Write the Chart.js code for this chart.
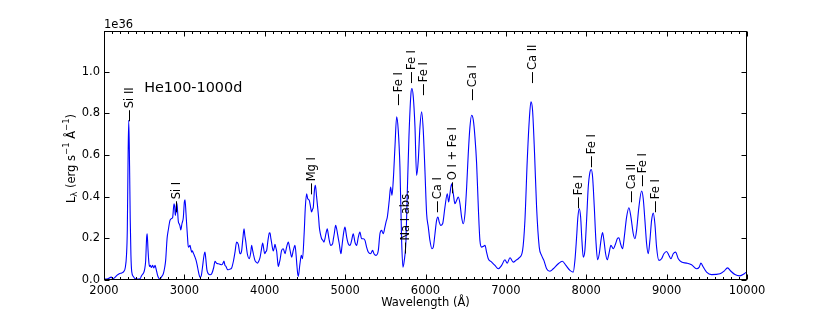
<!DOCTYPE html>
<html>
<head>
<meta charset="utf-8">
<script src="https://cdn.jsdelivr.net/npm/chart.js@4.4.1/dist/chart.umd.min.js"></script>
<style>
  html, body { margin: 0; padding: 0; background: #fff; }
</style>
</head>
<body>
<canvas id="spec" width="830" height="312"></canvas>
<script>
// Model spectrum He100-1000d, L_lambda in units of 1e36 erg/s/A
var wavelength = [
  2000, 2030, 2060, 2090, 2110, 2130, 2160, 2190, 2220, 2245, 2265, 2280, 2290, 2300, 2308, 2318, 2326, 2335, 2345, 2365,
  2390, 2420, 2448, 2469, 2490, 2505, 2518, 2530, 2537, 2547, 2555, 2565, 2575, 2590, 2605, 2620, 2635, 2650, 2665, 2680,
  2697, 2715, 2738, 2755, 2767, 2785, 2800, 2821, 2840, 2854, 2871, 2880, 2887, 2895, 2904, 2912, 2925, 2935, 2945, 2955,
  2970, 2987, 3000, 3008, 3020, 3028, 3040, 3049, 3060, 3070, 3080, 3091, 3100, 3111, 3122, 3132, 3145, 3160, 3175, 3194,
  3210, 3225, 3245, 3256, 3267, 3280, 3298, 3320, 3340, 3365, 3381, 3400, 3422, 3445, 3464, 3480, 3493, 3505, 3518, 3535,
  3547, 3565, 3588, 3610, 3630, 3650, 3671, 3692, 3705, 3713, 3728, 3742, 3752, 3762, 3783, 3808, 3825, 3837, 3848, 3858,
  3878, 3895, 3907, 3925, 3941, 3958, 3974, 3987, 3999, 4012, 4024, 4040, 4058, 4065, 4076, 4086, 4106, 4118, 4127, 4138,
  4148, 4160, 4169, 4180, 4189, 4210, 4231, 4252, 4272, 4293, 4314, 4335, 4355, 4376, 4390, 4400, 4410, 4417, 4438, 4455,
  4470, 4490, 4505, 4521, 4535, 4554, 4570, 4583, 4595, 4604, 4618, 4630, 4645, 4658, 4670, 4679, 4693, 4708, 4723, 4737,
  4750, 4761, 4778, 4790, 4799, 4820, 4844, 4855, 4865, 4882, 4892, 4902, 4915, 4927, 4948, 4960, 4969, 4985, 4998, 5010,
  5019, 5039, 5060, 5081, 5101, 5122, 5143, 5164, 5184, 5205, 5226, 5247, 5267, 5288, 5317, 5342, 5359, 5384, 5413, 5433,
  5454, 5475, 5495, 5510, 5525, 5549, 5566, 5583, 5599, 5620, 5641, 5661, 5682, 5703, 5719, 5736, 5757, 5773, 5794, 5819,
  5831, 5848, 5869, 5889, 5910, 5931, 5952, 5972, 5993, 6014, 6035, 6055, 6080, 6097, 6118, 6138, 6155, 6171, 6188, 6213,
  6242, 6271, 6288, 6304, 6325, 6346, 6366, 6387, 6408, 6429, 6449, 6470, 6491, 6512, 6532, 6553, 6574, 6595, 6615, 6636,
  6657, 6677, 6698, 6719, 6740, 6760, 6781, 6823, 6864, 6905, 6947, 6988, 7017, 7051, 7092, 7125, 7167, 7208, 7237, 7266,
  7291, 7312, 7332, 7357, 7382, 7415, 7444, 7473, 7507, 7548, 7590, 7652, 7702, 7747, 7797, 7838, 7859, 7880, 7896, 7913,
  7930, 7946, 7963, 7983, 8004, 8025, 8046, 8062, 8079, 8100, 8120, 8141, 8162, 8183, 8203, 8220, 8241, 8261, 8282, 8307,
  8336, 8365, 8386, 8406, 8427, 8452, 8473, 8502, 8531, 8556, 8585, 8606, 8626, 8655, 8689, 8709, 8730, 8751, 8771, 8792,
  8813, 8834, 8854, 8875, 8904, 8937, 8966, 8999, 9029, 9053, 9082, 9111, 9145, 9186, 9248, 9310, 9373, 9406, 9427, 9456,
  9497, 9559, 9663, 9713, 9758, 9800, 9850, 9912, 9966, 10000
];
var lumin = [
  0.005, 0.004, 0.008, 0.014, 0.006, 0.010, 0.022, 0.030, 0.034, 0.040, 0.060, 0.120, 0.240, 0.600, 0.767, 0.550, 0.300, 0.120, 0.040, 0.017,
  0.006, 0.004, 0.006, 0.022, 0.032, 0.050, 0.090, 0.200, 0.222, 0.150, 0.100, 0.065, 0.070, 0.060, 0.070, 0.058, 0.070, 0.050, 0.025, 0.010,
  0.005, 0.015, 0.030, 0.060, 0.094, 0.200, 0.240, 0.286, 0.295, 0.300, 0.366, 0.350, 0.310, 0.330, 0.370, 0.350, 0.280, 0.270, 0.260, 0.240,
  0.270, 0.300, 0.375, 0.385, 0.320, 0.270, 0.200, 0.158, 0.160, 0.166, 0.150, 0.134, 0.140, 0.130, 0.120, 0.110, 0.095, 0.070, 0.040, 0.014,
  0.020, 0.060, 0.120, 0.134, 0.100, 0.050, 0.030, 0.025, 0.030, 0.060, 0.090, 0.080, 0.078, 0.075, 0.073, 0.080, 0.091, 0.070, 0.065, 0.050,
  0.049, 0.052, 0.058, 0.090, 0.134, 0.182, 0.171, 0.126, 0.130, 0.142, 0.200, 0.246, 0.215, 0.190, 0.126, 0.102, 0.130, 0.166, 0.145, 0.126,
  0.094, 0.085, 0.081, 0.090, 0.107, 0.145, 0.177, 0.150, 0.126, 0.135, 0.142, 0.190, 0.226, 0.227, 0.200, 0.177, 0.139, 0.155, 0.171, 0.155,
  0.139, 0.090, 0.065, 0.080, 0.094, 0.142, 0.150, 0.126, 0.158, 0.182, 0.145, 0.110, 0.142, 0.166, 0.120, 0.070, 0.030, 0.017, 0.078, 0.118,
  0.102, 0.222, 0.350, 0.414, 0.390, 0.382, 0.350, 0.326, 0.340, 0.350, 0.430, 0.454, 0.400, 0.350, 0.300, 0.254, 0.220, 0.198, 0.190, 0.182,
  0.200, 0.222, 0.246, 0.220, 0.198, 0.166, 0.174, 0.200, 0.222, 0.262, 0.250, 0.230, 0.200, 0.174, 0.126, 0.160, 0.190, 0.235, 0.254, 0.230,
  0.206, 0.174, 0.166, 0.190, 0.222, 0.182, 0.166, 0.206, 0.230, 0.198, 0.198, 0.190, 0.158, 0.134, 0.126, 0.142, 0.126, 0.118, 0.142, 0.222,
  0.238, 0.222, 0.254, 0.280, 0.302, 0.382, 0.446, 0.406, 0.478, 0.639, 0.783, 0.719, 0.542, 0.190, 0.062, 0.094, 0.190, 0.414, 0.687, 0.895,
  0.919, 0.879, 0.735, 0.502, 0.574, 0.735, 0.807, 0.719, 0.526, 0.318, 0.254, 0.190, 0.150, 0.158, 0.222, 0.286, 0.302, 0.278, 0.262, 0.270,
  0.350, 0.414, 0.374, 0.414, 0.462, 0.414, 0.366, 0.382, 0.398, 0.366, 0.302, 0.270, 0.318, 0.446, 0.606, 0.735, 0.791, 0.767, 0.687, 0.559,
  0.350, 0.190, 0.158, 0.161, 0.166, 0.134, 0.102, 0.086, 0.070, 0.054, 0.070, 0.097, 0.081, 0.107, 0.086, 0.094, 0.107, 0.142, 0.286, 0.574,
  0.767, 0.855, 0.815, 0.606, 0.350, 0.158, 0.118, 0.094, 0.054, 0.042, 0.054, 0.078, 0.090, 0.070, 0.046, 0.038, 0.094, 0.206, 0.302, 0.342,
  0.302, 0.190, 0.110, 0.142, 0.286, 0.446, 0.518, 0.530, 0.494, 0.350, 0.190, 0.097, 0.126, 0.190, 0.228, 0.190, 0.126, 0.097, 0.126, 0.166,
  0.150, 0.174, 0.198, 0.203, 0.174, 0.150, 0.206, 0.302, 0.347, 0.302, 0.222, 0.198, 0.238, 0.350, 0.427, 0.390, 0.286, 0.174, 0.126, 0.190,
  0.286, 0.321, 0.270, 0.158, 0.094, 0.102, 0.126, 0.137, 0.118, 0.102, 0.126, 0.134, 0.102, 0.086, 0.081, 0.073, 0.054, 0.062, 0.081, 0.062,
  0.038, 0.026, 0.030, 0.042, 0.058, 0.042, 0.026, 0.020, 0.030, 0.040
];

// line identifications: label, wavelength, and level where the marker starts
var lineLabels = ['Si II', 'Si I', 'Mg I', 'Fe I', 'Fe I', 'Fe I', 'Na I abs.', 'Ca I', 'O I + Fe I', 'Ca I',
  'Ca II', 'Fe I', 'Fe I', 'Ca II', 'Fe I', 'Fe I'];
var lineWave = [2315, 2896, 4571, 5654, 5819, 5968, 5744, 6146, 6325, 6582,
  7321, 7900, 8055, 8552, 8697, 8854];
var lineLevel = [0.762, 0.325, 0.411, 0.839, 0.945, 0.887, 0.127, 0.325, 0.416, 0.863,
  0.945, 0.344, 0.541, 0.373, 0.45, 0.325];

var xTicks = [2000, 3000, 4000, 5000, 6000, 7000, 8000, 9000, 10000];
var yTicks = [0, 0.2, 0.4, 0.6, 0.8, 1.0];
var modelName = 'He100-1000d';
var modelPos = [2500, 0.9];

var FONT = '"DejaVu Sans", sans-serif';

var points = wavelength.map(function (w, i) { return { x: w, y: lumin[i] }; });

var framePlugin = {
  id: 'frame',
  afterDraw: function (chart) {
    var ctx = chart.ctx, a = chart.chartArea;
    var xs = chart.scales.x, ys = chart.scales.y;
    var l = Math.round(a.left) + 0.5, r = Math.round(a.right) - 0.5;
    var t = Math.round(a.top) + 0.5, b = Math.round(a.bottom) - 0.5;
    ctx.save();
    ctx.strokeStyle = '#000';
    ctx.lineWidth = 1;
    ctx.beginPath();
    // minor x ticks every 100 A, major every 1000 A
    for (var w = 2000; w <= 10000; w += 100) {
      var px = Math.round(xs.getPixelForValue(w)) + 0.5;
      var len = (w % 1000 === 0) ? 5 : 2.5;
      ctx.moveTo(px, b); ctx.lineTo(px, b - len);
      ctx.moveTo(px, t); ctx.lineTo(px, t + len);
    }
    yTicks.forEach(function (v) {
      var py = Math.round(ys.getPixelForValue(v)) + 0.5;
      ctx.moveTo(l, py); ctx.lineTo(l + 5, py);
      ctx.moveTo(r, py); ctx.lineTo(r - 5, py);
    });
    ctx.stroke();
    ctx.strokeRect(l, t, r - l, b - t);

    // offset text
    ctx.fillStyle = '#000';
    ctx.font = '11.5px ' + FONT;
    ctx.textAlign = 'left';
    ctx.textBaseline = 'alphabetic';
    ctx.fillText('1e36', a.left, a.top - 3);

    // y axis label with sub/superscripts
    var parts = [
      ['L', 0, 11.5], ['\u03bb', 3, 8.5], [' (erg s', 0, 11.5], ['\u22121', -5, 8.5],
      [' \u00c5', 0, 11.5], ['\u22121', -5, 8.5], [')', 0, 11.5]
    ];
    var total = 0;
    parts.forEach(function (p) { ctx.font = p[2] + 'px ' + FONT; p.push(ctx.measureText(p[0]).width); total += p[3]; });
    ctx.textBaseline = 'middle';
    ctx.translate(72, (a.top + a.bottom) / 2 + 3);
    ctx.rotate(-Math.PI / 2);
    var cx = -total / 2;
    parts.forEach(function (p) {
      ctx.font = p[2] + 'px ' + FONT;
      ctx.fillText(p[0], cx, p[1]);
      cx += p[3];
    });
    ctx.restore();
  }
};

var labelPlugin = {
  id: 'lineIds',
  afterDatasetsDraw: function (chart) {
    var ctx = chart.ctx, xs = chart.scales.x, ys = chart.scales.y;
    ctx.save();
    ctx.fillStyle = '#000';
    ctx.strokeStyle = '#000';
    ctx.lineWidth = 1;
    ctx.font = '11.5px ' + FONT;
    ctx.textBaseline = 'middle';
    ctx.textAlign = 'left';
    for (var i = 0; i < lineLabels.length; i++) {
      var x = Math.round(xs.getPixelForValue(lineWave[i])) + 0.5;
      var y = ys.getPixelForValue(lineLevel[i]);
      ctx.save();
      ctx.translate(x, y);
      ctx.rotate(-Math.PI / 2);
      ctx.beginPath();
      ctx.moveTo(0, 0); ctx.lineTo(11, 0);
      ctx.stroke();
      ctx.fillText(lineLabels[i], 13, 0.5);
      ctx.restore();
    }
    ctx.font = '14.4px ' + FONT;
    ctx.textBaseline = 'alphabetic';
    ctx.fillText(modelName, xs.getPixelForValue(modelPos[0]), ys.getPixelForValue(modelPos[1]));
    ctx.restore();
  }
};

new Chart(document.getElementById('spec').getContext('2d'), {
  type: 'line',
  data: {
    datasets: [{
      data: points,
      borderColor: '#0000ff',
      borderWidth: 1.1,
      pointRadius: 0,
      fill: false,
      cubicInterpolationMode: 'monotone'
    }]
  },
  options: {
    responsive: false,
    animation: false,
    layout: { padding: { left: 0, right: 83, top: 31, bottom: 0 } },
    plugins: { legend: { display: false }, tooltip: { enabled: false } },
    scales: {
      x: {
        type: 'linear',
        position: 'bottom',
        min: 2000,
        max: 10000,
        grid: { display: false, drawTicks: false },
        border: { display: false },
        afterBuildTicks: function (s) { s.ticks = xTicks.map(function (v) { return { value: v }; }); },
        afterFit: function (s) { s.height = 32; },
        ticks: {
          autoSkip: false,
          maxRotation: 0,
          padding: 4,
          color: '#000',
          font: { family: FONT, size: 11.5 },
          callback: function (v) { return String(v); }
        },
        title: {
          display: true,
          text: 'Wavelength (\u00c5)',
          color: '#000',
          font: { family: FONT, size: 11.5 },
          padding: { top: 0, bottom: 2 }
        }
      },
      y: {
        min: 0,
        max: 1.195,
        grid: { display: false, drawTicks: false },
        border: { display: false },
        afterBuildTicks: function (s) { s.ticks = yTicks.map(function (v) { return { value: v }; }); },
        afterFit: function (s) { s.width = 104; },
        ticks: {
          padding: 4,
          color: '#000',
          font: { family: FONT, size: 11.5 },
          callback: function (v) { return Number(v).toFixed(1); }
        }
      }
    }
  },
  plugins: [labelPlugin, framePlugin]
});
</script>
</body>
</html>
